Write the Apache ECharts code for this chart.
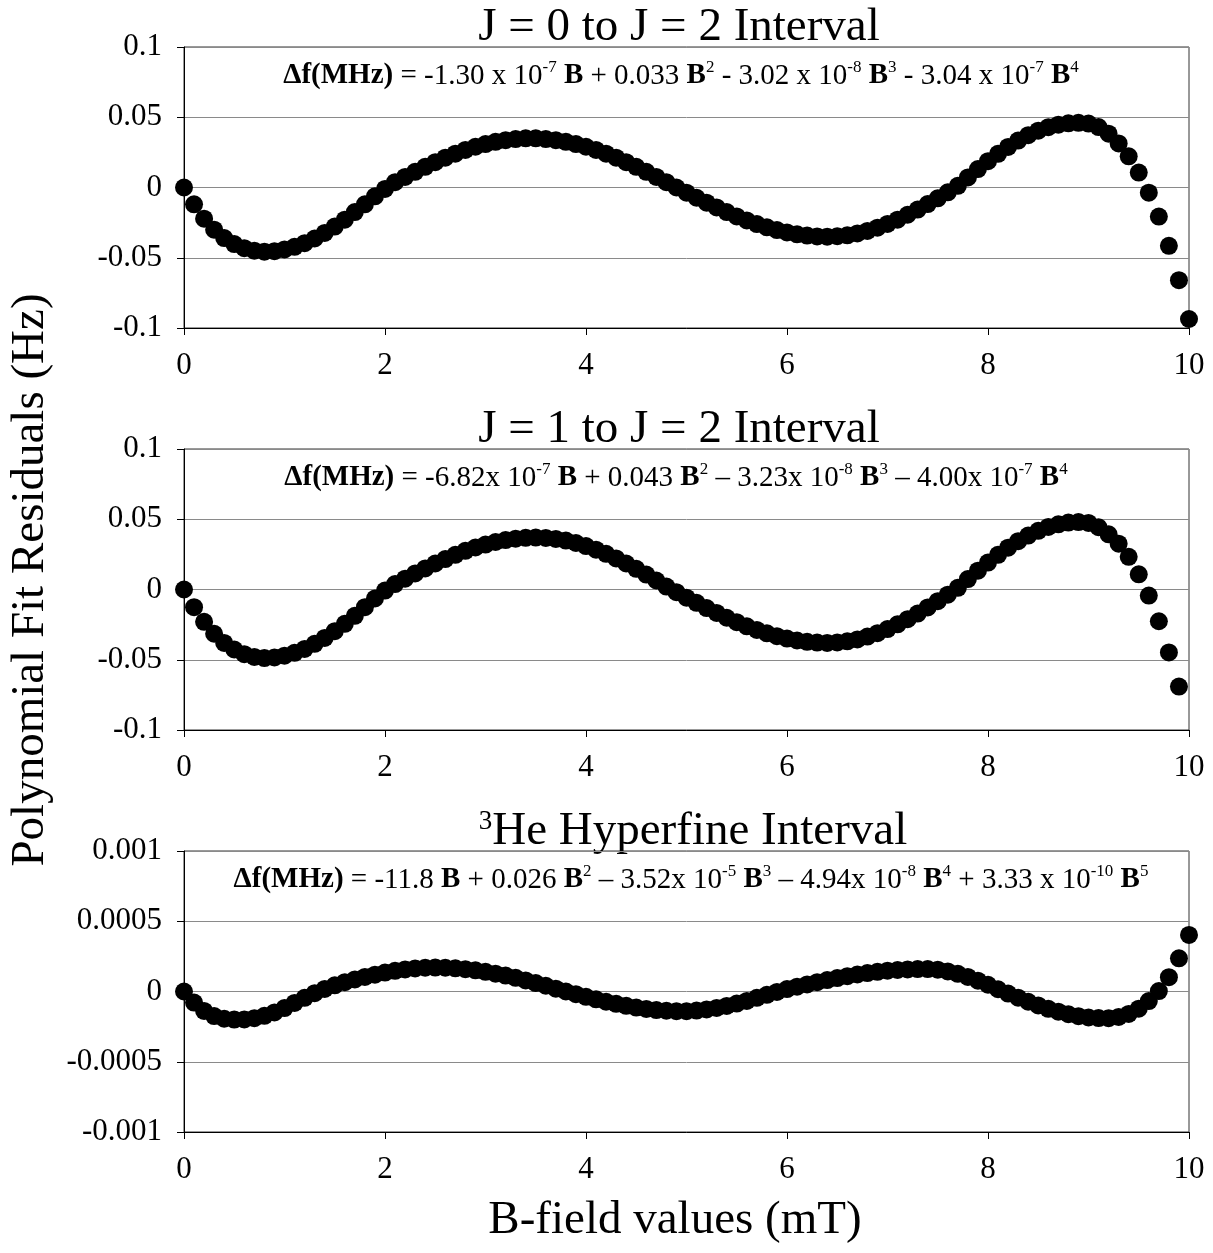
<!DOCTYPE html>
<html>
<head>
<meta charset="utf-8">
<script src="https://cdn.jsdelivr.net/npm/echarts@6/dist/echarts.min.js"></script>
<style>
  html, body { margin: 0; padding: 0; background: #fff; }
  #chart { width: 1213px; height: 1253px; }
</style>
</head>
<body>
<div id="chart"></div>
<script>
// B-field values (mT), one per point
const bField = [
  0.0, 0.1, 0.2, 0.3, 0.4, 0.5, 0.6, 0.7, 0.8, 0.9,
  1.0, 1.1, 1.2, 1.3, 1.4, 1.5, 1.6, 1.7, 1.8, 1.9,
  2.0, 2.1, 2.2, 2.3, 2.4, 2.5, 2.6, 2.7, 2.8, 2.9,
  3.0, 3.1, 3.2, 3.3, 3.4, 3.5, 3.6, 3.7, 3.8, 3.9,
  4.0, 4.1, 4.2, 4.3, 4.4, 4.5, 4.6, 4.7, 4.8, 4.9,
  5.0, 5.1, 5.2, 5.3, 5.4, 5.5, 5.6, 5.7, 5.8, 5.9,
  6.0, 6.1, 6.2, 6.3, 6.4, 6.5, 6.6, 6.7, 6.8, 6.9,
  7.0, 7.1, 7.2, 7.3, 7.4, 7.5, 7.6, 7.7, 7.8, 7.9,
  8.0, 8.1, 8.2, 8.3, 8.4, 8.5, 8.6, 8.7, 8.8, 8.9,
  9.0, 9.1, 9.2, 9.3, 9.4, 9.5, 9.6, 9.7, 9.8, 9.9,
  10.0
];

// residuals (Hz), J = 0 to J = 2
const residJ02 = [
  0.0000, -0.0120, -0.0222, -0.0300, -0.0360, -0.0403, -0.0432, -0.0450, -0.0457, -0.0453,
  -0.0441, -0.0422, -0.0396, -0.0363, -0.0323, -0.0278, -0.0229, -0.0175, -0.0120, -0.0063,
  -0.0010, 0.0038, 0.0075, 0.0112, 0.0147, 0.0180, 0.0212, 0.0241, 0.0267, 0.0290,
  0.0309, 0.0325, 0.0337, 0.0345, 0.0350, 0.0350, 0.0345, 0.0337, 0.0325, 0.0309,
  0.0290, 0.0267, 0.0241, 0.0212, 0.0180, 0.0147, 0.0112, 0.0075, 0.0038, 0.0000,
  -0.0037, -0.0073, -0.0108, -0.0142, -0.0175, -0.0206, -0.0234, -0.0260, -0.0283, -0.0303,
  -0.0320, -0.0333, -0.0342, -0.0348, -0.0350, -0.0347, -0.0340, -0.0327, -0.0309, -0.0286,
  -0.0259, -0.0229, -0.0194, -0.0157, -0.0118, -0.0077, -0.0034, 0.0012, 0.0072, 0.0131,
  0.0187, 0.0240, 0.0289, 0.0334, 0.0372, 0.0404, 0.0429, 0.0447, 0.0457, 0.0460,
  0.0455, 0.0430, 0.0383, 0.0314, 0.0222, 0.0106, -0.0037, -0.0207, -0.0415, -0.0660,
  -0.0936
];

// residuals (Hz), J = 1 to J = 2 (last point at 9.9)
const residJ12 = [
  0.0000, -0.0126, -0.0230, -0.0315, -0.0380, -0.0427, -0.0460, -0.0480, -0.0488, -0.0484,
  -0.0471, -0.0451, -0.0423, -0.0387, -0.0345, -0.0297, -0.0244, -0.0187, -0.0126, -0.0064,
  -0.0008, 0.0039, 0.0077, 0.0114, 0.0150, 0.0185, 0.0217, 0.0247, 0.0275, 0.0299,
  0.0320, 0.0338, 0.0352, 0.0362, 0.0368, 0.0370, 0.0367, 0.0360, 0.0348, 0.0331,
  0.0309, 0.0283, 0.0254, 0.0221, 0.0185, 0.0147, 0.0106, 0.0064, 0.0021, -0.0019,
  -0.0058, -0.0095, -0.0132, -0.0167, -0.0201, -0.0233, -0.0262, -0.0288, -0.0312, -0.0332,
  -0.0349, -0.0363, -0.0372, -0.0378, -0.0380, -0.0377, -0.0369, -0.0355, -0.0335, -0.0311,
  -0.0282, -0.0248, -0.0211, -0.0171, -0.0128, -0.0083, -0.0037, 0.0012, 0.0074, 0.0134,
  0.0192, 0.0247, 0.0298, 0.0344, 0.0384, 0.0418, 0.0445, 0.0464, 0.0476, 0.0480,
  0.0474, 0.0443, 0.0393, 0.0326, 0.0233, 0.0108, -0.0043, -0.0226, -0.0448, -0.0691
];

// residuals (Hz), 3He hyperfine
const residHe3 = [
  0.000000, -0.000079, -0.000138, -0.000175, -0.000194, -0.000200, -0.000199, -0.000190, -0.000173, -0.000149,
  -0.000118, -0.000081, -0.000045, -0.000012, 0.000018, 0.000044, 0.000066, 0.000086, 0.000104, 0.000120,
  0.000135, 0.000147, 0.000157, 0.000164, 0.000169, 0.000170, 0.000169, 0.000165, 0.000159, 0.000151,
  0.000140, 0.000127, 0.000113, 0.000097, 0.000079, 0.000060, 0.000041, 0.000020, 0.000000, -0.000019,
  -0.000038, -0.000056, -0.000073, -0.000088, -0.000102, -0.000114, -0.000124, -0.000132, -0.000137, -0.000140,
  -0.000140, -0.000136, -0.000128, -0.000117, -0.000103, -0.000086, -0.000067, -0.000045, -0.000024, -0.000003,
  0.000017, 0.000034, 0.000050, 0.000066, 0.000081, 0.000096, 0.000109, 0.000121, 0.000131, 0.000140,
  0.000148, 0.000153, 0.000157, 0.000160, 0.000160, 0.000155, 0.000143, 0.000126, 0.000104, 0.000077,
  0.000048, 0.000016, -0.000015, -0.000044, -0.000073, -0.000099, -0.000123, -0.000144, -0.000162, -0.000176,
  -0.000185, -0.000189, -0.000190, -0.000181, -0.000160, -0.000122, -0.000068, 0.000003, 0.000102, 0.000236,
  0.000403
];

const panelTitles = [
  'J = 0 to J = 2 Interval',
  'J = 1 to J = 2 Interval',
  '{p|3}He Hyperfine Interval'
];

const fitEquations = [
  '{b|\u0394f(MHz)} = -1.30 x 10{s|-7} {b|B} + 0.033 {b|B}{s|2} - 3.02 x 10{s|-8} {b|B}{s|3} - 3.04 x 10{s|-7} {b|B}{s|4}',
  '{b|\u0394f(MHz)} = -6.82x 10{s|-7} {b|B} + 0.043 {b|B}{s|2} \u2013 3.23x 10{s|-8} {b|B}{s|3} \u2013 4.00x 10{s|-7} {b|B}{s|4}',
  '{b|\u0394f(MHz)} = -11.8 {b|B} + 0.026 {b|B}{s|2} \u2013 3.52x 10{s|-5} {b|B}{s|3} \u2013 4.94x 10{s|-8} {b|B}{s|4} + 3.33 x 10{s|-10} {b|B}{s|5}'
];

const yRanges = [
  { min: -0.1, max: 0.1, interval: 0.05 },
  { min: -0.1, max: 0.1, interval: 0.05 },
  { min: -0.001, max: 0.001, interval: 0.0005 }
];

const seriesValues = [residJ02, residJ12, residHe3];

const FONT = '"Liberation Serif", "Times New Roman", serif';
const plotLeft = 184;
const plotWidth = 1005;
const panelTops = [47, 449, 851];
const panelHeight = 281;
const titleX = [679, 679, 693];
const equationX = [681, 676, 691];

function fmtY(v) {
  const r = Math.round(v * 1e6) / 1e6;
  return r === 0 ? '0' : String(r);
}

const grids = [], xAxes = [], yAxes = [], series = [], graphics = [];

for (let i = 0; i < 3; i++) {
  grids.push({
    left: plotLeft, top: panelTops[i], width: plotWidth, height: panelHeight,
    show: true, borderColor: '#333', borderWidth: 1, backgroundColor: 'transparent'
  });

  xAxes.push({
    gridIndex: i, type: 'value', min: 0, max: 10, interval: 2,
    axisLine: { show: true, onZero: false, lineStyle: { color: '#000', width: 1 } },
    axisTick: { show: true, inside: false, length: 7, lineStyle: { color: '#000' } },
    axisLabel: { fontFamily: FONT, fontSize: 31, color: '#000', margin: 22 },
    splitLine: { show: false }
  });

  yAxes.push({
    gridIndex: i, type: 'value',
    min: yRanges[i].min, max: yRanges[i].max, interval: yRanges[i].interval,
    axisLine: { show: true, onZero: false, lineStyle: { color: '#000', width: 1 } },
    axisTick: { show: true, inside: false, length: 7, lineStyle: { color: '#000' } },
    axisLabel: { fontFamily: FONT, fontSize: 31, color: '#000', margin: 22, formatter: fmtY },
    splitLine: { show: true, lineStyle: { color: '#8a8a8a', width: 1 } }
  });

  const pts = seriesValues[i].map((v, k) => [bField[k], v]);
  series.push({
    type: 'scatter', xAxisIndex: i, yAxisIndex: i,
    data: pts, symbol: 'circle', symbolSize: 18,
    itemStyle: { color: '#000', opacity: 1 },
    silent: true, z: 5
  });

  graphics.push({
    type: 'text', x: titleX[i], y: panelTops[i] - 19,
    style: {
      text: panelTitles[i], fontFamily: FONT, fontSize: 47, fill: '#000',
      lineHeight: 48,
      align: 'center', verticalAlign: 'middle',
      textAlign: 'center', textVerticalAlign: 'middle',
      rich: {
        p: { fontFamily: FONT, fontSize: 27, fill: '#000', lineHeight: 30, verticalAlign: 'top' }
      }
    }
  });

  graphics.push({
    type: 'text', x: equationX[i], y: panelTops[i] + 29,
    style: {
      text: fitEquations[i], fontFamily: FONT, fontSize: 29, fill: '#000',
      lineHeight: 34,
      align: 'center', verticalAlign: 'middle',
      textAlign: 'center', textVerticalAlign: 'middle',
      rich: {
        b: { fontFamily: FONT, fontSize: 29, fontWeight: 'bold', fill: '#000', lineHeight: 34 },
        s: { fontFamily: FONT, fontSize: 17, fill: '#000', lineHeight: 17, verticalAlign: 'top' }
      }
    }
  });
}

// shared axis titles
graphics.push({
  type: 'text', x: 31, y: 580, rotation: Math.PI / 2,
  style: {
    text: 'Polynomial Fit Residuals (Hz)', fontFamily: FONT, fontSize: 47, fill: '#000',
    align: 'center', verticalAlign: 'middle',
    textAlign: 'center', textVerticalAlign: 'middle'
  }
});
graphics.push({
  type: 'text', x: 675, y: 1221,
  style: {
    text: 'B-field values (mT)', fontFamily: FONT, fontSize: 47, fill: '#000',
    align: 'center', verticalAlign: 'middle',
    textAlign: 'center', textVerticalAlign: 'middle'
  }
});

const chart = echarts.init(document.getElementById('chart'), null, { renderer: 'canvas' });
chart.setOption({
  animation: false,
  backgroundColor: '#fff',
  grid: grids,
  xAxis: xAxes,
  yAxis: yAxes,
  series: series,
  graphic: graphics
});
</script>
</body>
</html>
